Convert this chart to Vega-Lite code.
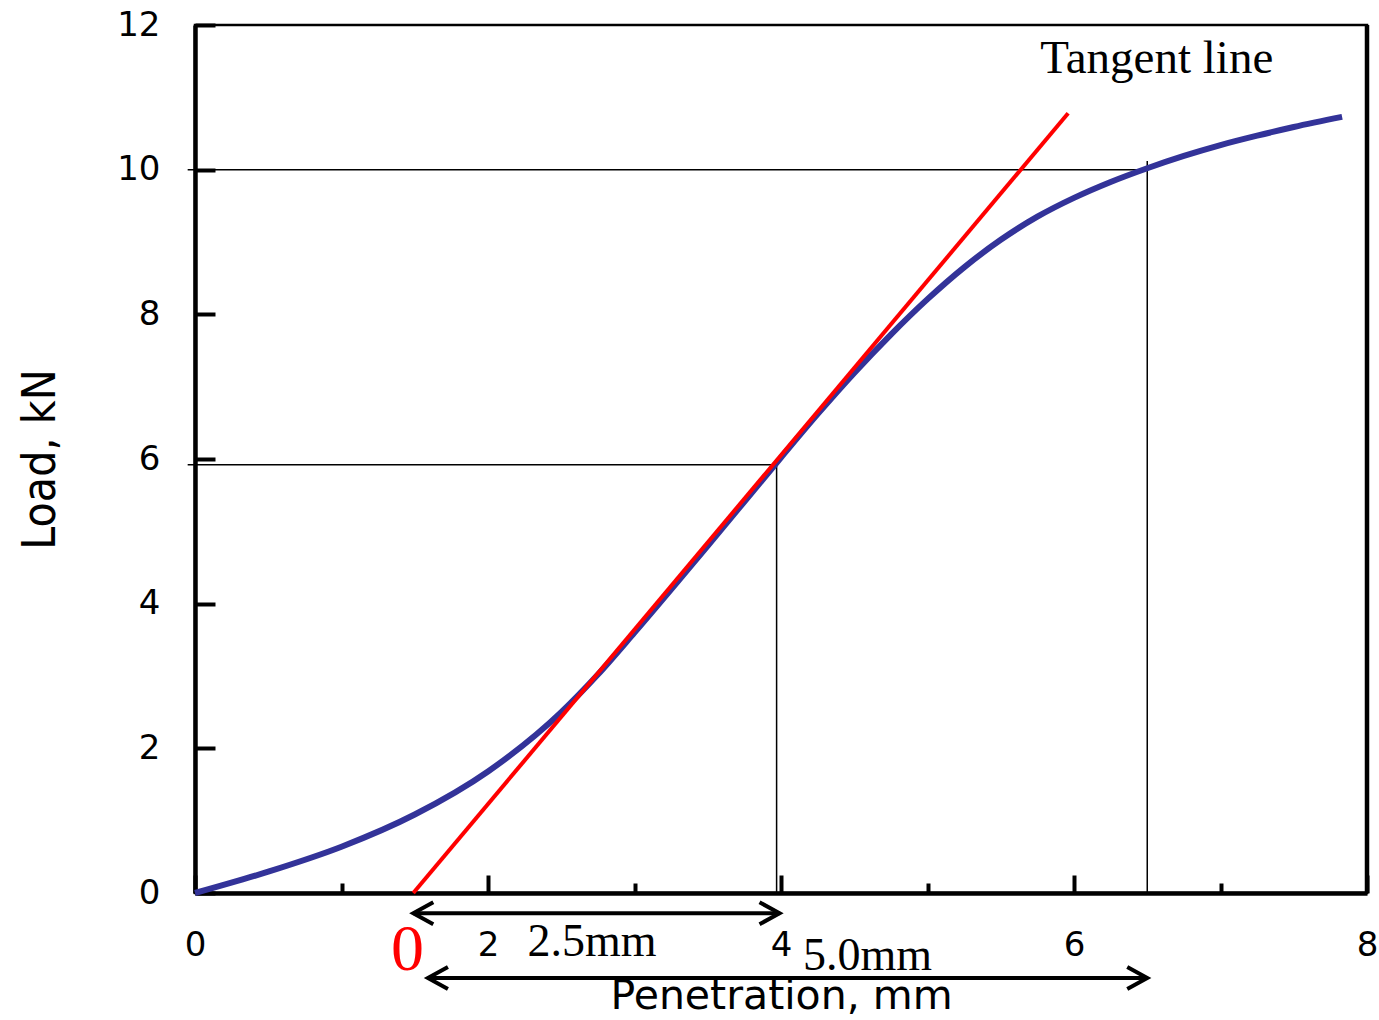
{
  "$schema": "https://vega.github.io/schema/vega-lite/v6.json",
  "width": 1172,
  "height": 868,
  "padding": {"left": 195, "top": 25, "right": 12, "bottom": 127},
  "autosize": "none",
  "background": "white",
  "config": {"view": {"stroke": "black", "strokeWidth": 2.5}},
  "datasets": {
    "curve": [
      {"x": 0, "y": 0}, {"x": 0.5, "y": 0.295}, {"x": 1.0, "y": 0.64}, {"x": 1.5, "y": 1.085},
      {"x": 2.0, "y": 1.68}, {"x": 2.5, "y": 2.5}, {"x": 2.75, "y": 3.02}, {"x": 3.0, "y": 3.6},
      {"x": 3.5, "y": 4.8}, {"x": 4.0, "y": 6.02}, {"x": 4.25, "y": 6.62}, {"x": 4.5, "y": 7.19},
      {"x": 4.75, "y": 7.72}, {"x": 5.0, "y": 8.21}, {"x": 5.25, "y": 8.65}, {"x": 5.5, "y": 9.03},
      {"x": 5.75, "y": 9.35}, {"x": 6.0, "y": 9.61}, {"x": 6.25, "y": 9.83}, {"x": 6.5, "y": 10.02},
      {"x": 6.75, "y": 10.19}, {"x": 7.0, "y": 10.34}, {"x": 7.25, "y": 10.47}, {"x": 7.5, "y": 10.59},
      {"x": 7.83, "y": 10.73}
    ],
    "tangent": [{"x": 1.49, "y": 0}, {"x": 5.96, "y": 10.78}],
    "refs": [
      {"x": -0.05, "x2": 6.5, "y": 10.0, "y2": 10.0},
      {"x": 6.5, "x2": 6.5, "y": 0, "y2": 10.12},
      {"x": -0.05, "x2": 3.97, "y": 5.92, "y2": 5.92},
      {"x": 3.97, "x2": 3.97, "y": 0, "y2": 5.92}
    ],
    "arrows": [{"x": 1.49, "x2": 3.99, "y": -0.28}, {"x": 1.59, "x2": 6.5, "y": -1.175}],
    "heads": [
      {"x": 1.49, "y": -0.28, "dir": "left"}, {"x": 3.99, "y": -0.28, "dir": "right"},
      {"x": 1.59, "y": -1.175, "dir": "left"}, {"x": 6.5, "y": -1.175, "dir": "right"}
    ]
  },
  "layer": [
    {
      "data": {"name": "refs"},
      "mark": {"type": "rule", "color": "black", "strokeWidth": 1.5},
      "encoding": {
        "x": {"field": "x", "type": "quantitative", "scale": {"domain": [0, 8], "nice": false},
          "axis": {
            "values": [0, 1, 2, 3, 4, 5, 6, 7, 8],
            "format": "d",
            "grid": false,
            "domainColor": "black", "domainWidth": 4.5,
            "tickColor": "black", "tickWidth": 4,
            "tickSize": {"condition": {"test": "datum.value % 2 === 0", "value": -18}, "value": -10},
            "labelExpr": "datum.value % 2 === 0 ? datum.label : ''",
            "labelFont": "DejaVu Sans", "labelFontSize": 34, "labelColor": "black",
            "labelPadding": 53, "labelFlush": false,
            "title": "Penetration, mm", "titleFont": "DejaVu Sans", "titleFontSize": 41,
            "titleFontWeight": "normal", "titleColor": "black", "titlePadding": 14
          }},
        "x2": {"field": "x2"},
        "y": {"field": "y", "type": "quantitative", "scale": {"domain": [0, 12], "nice": false},
          "axis": {
            "values": [0, 2, 4, 6, 8, 10, 12],
            "format": "d",
            "grid": false,
            "domainColor": "black", "domainWidth": 4.5,
            "tickColor": "black", "tickWidth": 4, "tickSize": -20,
            "labelFont": "DejaVu Sans", "labelFontSize": 34, "labelColor": "black",
            "labelPadding": 55,
            "title": "Load, kN", "titleFont": "DejaVu Sans Condensed, Liberation Sans Narrow, Roboto, sans-serif", "titleFontSize": 46,
            "titleFontWeight": "normal", "titleColor": "black", "titlePadding": 52
          }},
        "y2": {"field": "y2"}
      }
    },
    {
      "data": {"name": "curve"},
      "mark": {"type": "line", "color": "#333399", "strokeWidth": 6, "interpolate": "monotone"},
      "encoding": {
        "x": {"field": "x", "type": "quantitative"},
        "y": {"field": "y", "type": "quantitative"}
      }
    },
    {
      "data": {"name": "tangent"},
      "mark": {"type": "line", "color": "#ff0000", "strokeWidth": 4},
      "encoding": {
        "x": {"field": "x", "type": "quantitative"},
        "y": {"field": "y", "type": "quantitative"}
      }
    },
    {
      "data": {"values": [{"x": 8, "y": 0, "y2": 12}]},
      "mark": {"type": "rule", "color": "black", "strokeWidth": 4.5},
      "encoding": {
        "x": {"field": "x", "type": "quantitative"},
        "y": {"field": "y", "type": "quantitative"},
        "y2": {"field": "y2"}
      }
    },
    {
      "data": {"name": "arrows"},
      "mark": {"type": "rule", "color": "black", "strokeWidth": 4},
      "encoding": {
        "x": {"field": "x", "type": "quantitative"},
        "x2": {"field": "x2"},
        "y": {"field": "y", "type": "quantitative"}
      }
    },
    {
      "data": {"name": "heads"},
      "mark": {"type": "point", "filled": false, "stroke": "black", "strokeWidth": 4, "size": 1600, "opacity": 1},
      "encoding": {
        "x": {"field": "x", "type": "quantitative"},
        "y": {"field": "y", "type": "quantitative"},
        "shape": {"field": "dir", "type": "nominal", "legend": null,
          "scale": {"domain": ["left", "right"], "range": ["M 1 -0.55 L 0 0 L 1 0.55", "M -1 -0.55 L 0 0 L -1 0.55"]}}
      }
    },
    {
      "data": {"values": [{"x": 5.77, "y": 11.34, "label": "Tangent line"}]},
      "mark": {"type": "text", "font": "Liberation Serif", "fontSize": 47, "align": "left", "baseline": "alphabetic", "color": "black"},
      "encoding": {
        "x": {"field": "x", "type": "quantitative"},
        "y": {"field": "y", "type": "quantitative"},
        "text": {"field": "label"}
      }
    },
    {
      "data": {"values": [{"x": 2.27, "y": -0.87, "label": "2.5mm"}, {"x": 4.15, "y": -1.06, "label": "5.0mm"}]},
      "mark": {"type": "text", "font": "Liberation Serif", "fontSize": 46, "align": "left", "baseline": "alphabetic", "color": "black"},
      "encoding": {
        "x": {"field": "x", "type": "quantitative"},
        "y": {"field": "y", "type": "quantitative"},
        "text": {"field": "label"}
      }
    },
    {
      "data": {"values": [{"x": 1.45, "y": -1.06, "label": "0"}]},
      "mark": {"type": "text", "font": "Liberation Serif", "fontSize": 66, "align": "center", "baseline": "alphabetic", "color": "#ff0000"},
      "encoding": {
        "x": {"field": "x", "type": "quantitative"},
        "y": {"field": "y", "type": "quantitative"},
        "text": {"field": "label"}
      }
    }
  ]
}
